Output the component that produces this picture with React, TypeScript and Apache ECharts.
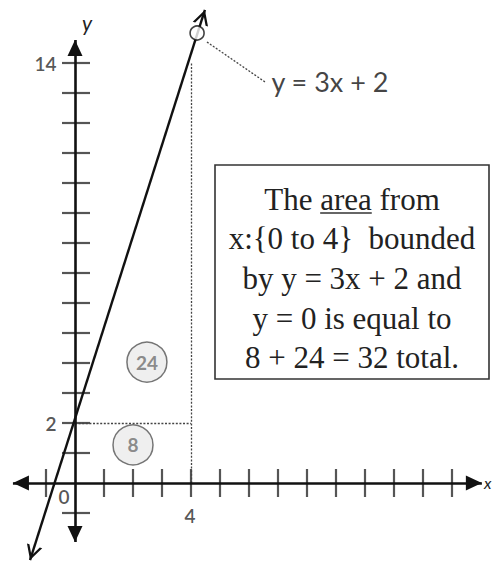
import React, { useEffect, useRef } from "react";
import * as echarts from "echarts";

// ---------- data ----------
const xTicks = [-1, 1, 2, 3, 4, 5, 6, 7, 8, 9, 10, 11, 12, 13];
const yTicks = [-1, 1, 2, 3, 4, 5, 6, 7, 8, 9, 10, 11, 12, 13, 14];
const yTickLabels = [
  { value: 14, text: "14" },
  { value: 2, text: "2" },
];
const xTickLabels = [
  { value: 0, text: "0" },
  { value: 4, text: "4" },
];
const xAxisEnds = [-2.14, 14.03];
const yAxisEnds = [-1.97, 14.77];
const lineStart = [-1.55, -2.57];
const lineEnd = [4.48, 15.77];
const guideLevel = 2;
const guideX = 4;
const guideTop = 14;
const openPoint = [4.21, 15.0];
const leaderStart = [4.55, 14.7];
const leaderEnd = [6.55, 13.37];
const equationText = "y = 3x + 2";
const areaX = [2.48, 2.0];
const areaY = [4.03, 1.27];
const areaValues = [24, 8];
const boxLines = [
  "The area from",
  "x:{0 to 4}  bounded",
  "by y = 3x + 2 and",
  "y = 0 is equal to",
  "8 + 24 = 32 total.",
];

// ---------- styles ----------
const SANS = 'Lato, "Noto Sans", sans-serif';
const SERIF = '"Liberation Serif", "DejaVu Serif", serif';
const TRI = "path://M0,20 L5,10 L10,20 Z M5,0 L5.01,0 L5,0.01 Z";
const CHEV =
  "path://M0,20 L5,10 L10,20 L8.4,20 L5,13.2 L1.6,20 Z M5,0 L5.01,0 L5,0.01 Z";

export default function App() {
  const ref = useRef<HTMLDivElement>(null);

  useEffect(() => {
    if (!ref.current) return;
    const chart = echarts.init(ref.current, undefined, { renderer: "svg" });

    const boxFontSize = 31;
    const boxCx = 352;
    const lineYs = [199, 238, 278, 318, 357];
    const cv = document.createElement("canvas").getContext("2d")!;
    cv.font = `${boxFontSize}px "Liberation Serif"`;
    const w1 = cv.measureText(boxLines[0]).width;
    const wPre = cv.measureText("The ").width;
    const wArea = cv.measureText("area").width;
    const ulX0 = boxCx - w1 / 2 + wPre;
    const ulY = lineYs[0] + 14;

    const option: any = {
      animation: false,
      backgroundColor: "#ffffff",
      grid: { left: 5.4, right: 5.2, top: 3, bottom: 1 },
      xAxis: { type: "value", min: -2.4, max: 14.2, show: false },
      yAxis: { type: "value", min: -2.6, max: 16, show: false },
      series: [
        // dotted guides
        {
          type: "scatter",
          data: [],
          z: 1,
          markLine: {
            silent: true,
            symbol: ["none", "none"],
            label: { show: false },
            lineStyle: { color: "#444", width: 1.3, type: [2, 1.6] },
            data: [
              [{ coord: [0, guideLevel] }, { coord: [guideX, guideLevel] }],
              [{ coord: [guideX, 0] }, { coord: [guideX, guideTop] }],
              [{ coord: leaderStart }, { coord: leaderEnd }],
            ],
          },
        },
        // axes
        {
          type: "scatter",
          data: [],
          z: 3,
          markLine: {
            silent: true,
            symbol: [TRI, TRI],
            symbolSize: [15, 32],
            label: { show: false },
            lineStyle: { color: "#111", width: 2.6, type: "solid" },
            data: [
              [{ coord: [xAxisEnds[0], 0] }, { coord: [xAxisEnds[1], 0] }],
              [{ coord: [0, yAxisEnds[0]] }, { coord: [0, yAxisEnds[1]] }],
            ],
          },
        },
        // ticks x
        {
          type: "scatter",
          z: 3,
          silent: true,
          symbol: "rect",
          symbolSize: [2.2, 28],
          itemStyle: { color: "#2a2a2a" },
          data: xTicks.map((x) => [x, 0]),
        },
        // ticks y
        {
          type: "scatter",
          z: 3,
          silent: true,
          symbol: "rect",
          symbolSize: [28, 2.2],
          symbolOffset: [1, 0],
          itemStyle: { color: "#2a2a2a" },
          data: yTicks.map((y) => [0, y]),
        },
        // tick labels y
        {
          type: "scatter",
          z: 4,
          silent: true,
          symbolSize: 1,
          itemStyle: { color: "rgba(0,0,0,0)" },
          label: {
            show: true,
            position: "left",
            distance: 18,
            formatter: "{b}",
            fontFamily: SANS,
            fontSize: 19,
            fontWeight: 600,
            color: "#2b2b2b",
          },
          data: yTickLabels.map((d) => ({ name: d.text, value: [0, d.value] })),
        },
        // tick labels x
        {
          type: "scatter",
          z: 4,
          silent: true,
          symbolSize: 1,
          itemStyle: { color: "rgba(0,0,0,0)" },
          label: {
            show: true,
            position: "inside",
            formatter: "{b}",
            fontFamily: SANS,
            fontSize: 19,
            fontWeight: 600,
            color: "#2b2b2b",
          },
          data: xTickLabels.map((d, i) => ({
            name: d.text,
            value: [d.value, 0],
            label: { offset: i === 0 ? [-11, 13] : [-1, 32] },
          })),
        },
        // main line y = 3x + 2
        {
          type: "scatter",
          data: [],
          z: 5,
          markLine: {
            silent: true,
            symbol: [CHEV, CHEV],
            symbolSize: [16, 30],
            label: { show: false },
            lineStyle: { color: "#111", width: 2.4, type: "solid" },
            data: [[{ coord: lineStart }, { coord: lineEnd }]],
          },
        },
        // open circle
        {
          type: "scatter",
          z: 6,
          silent: true,
          symbol: "circle",
          symbolSize: 14,
          itemStyle: { color: "#fff", borderColor: "#111", borderWidth: 1.6 },
          data: [openPoint],
        },
        // equation label
        {
          type: "scatter",
          z: 6,
          silent: true,
          symbolSize: 1,
          itemStyle: { color: "rgba(0,0,0,0)" },
          label: {
            show: true,
            position: "right",
            distance: 6,
            formatter: "{b}",
            fontFamily: SANS,
            fontSize: 27,
            color: "#111",
          },
          data: [{ name: equationText, value: leaderEnd }],
        },
        // area markers
        {
          type: "scatter",
          z: 6,
          silent: true,
          symbol: "circle",
          symbolSize: 40,
          itemStyle: { color: "#ebebeb", borderColor: "#555", borderWidth: 1.5 },
          label: {
            show: true,
            position: "inside",
            formatter: "{b}",
            fontFamily: SANS,
            fontSize: 19,
            fontWeight: "bold",
            color: "#6f6f6f",
          },
          data: areaValues.map((v, i) => ({
            name: String(v),
            value: [areaX[i], areaY[i]],
          })),
        },
      ],
      graphic: [
        {
          type: "text",
          x: 87,
          y: 22,
          style: {
            text: "y",
            fontFamily: SANS,
            fontStyle: "italic",
            fontSize: 21,
            fill: "#222",
            align: "center",
            verticalAlign: "middle",
          },
        },
        {
          type: "text",
          x: 484,
          y: 482,
          style: {
            text: "x",
            fontFamily: SANS,
            fontStyle: "italic",
            fontSize: 16,
            fill: "#222",
            align: "left",
            verticalAlign: "middle",
          },
        },
        {
          type: "rect",
          shape: { x: 215, y: 165, width: 274, height: 214 },
          style: { fill: "#fff", stroke: "#333", lineWidth: 1.6 },
          z: 10,
        },
        ...boxLines.map((t, i) => ({
          type: "text",
          x: boxCx,
          y: lineYs[i],
          z: 11,
          style: {
            text: t,
            fontFamily: SERIF,
            fontSize: boxFontSize,
            fill: "#222",
            align: "center",
            verticalAlign: "middle",
          },
        })),
        {
          type: "line",
          z: 11,
          shape: { x1: ulX0, y1: ulY, x2: ulX0 + wArea, y2: ulY },
          style: { stroke: "#333", lineWidth: 1.5 },
        },
      ],
    };

    chart.setOption(option);
    return () => chart.dispose();
  }, []);

  return (
    <div
      ref={ref}
      style={{ position: "fixed", left: 0, top: 0, width: 492, height: 562 }}
    />
  );
}
